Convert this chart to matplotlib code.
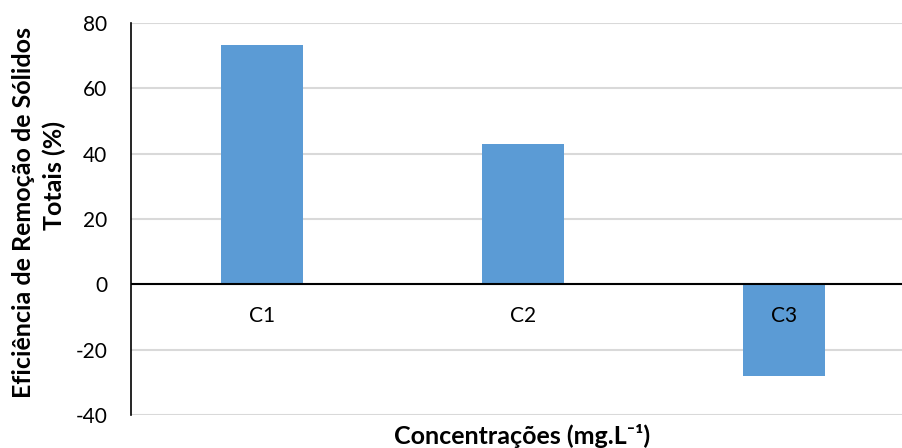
import matplotlib
matplotlib.use("Agg")
import matplotlib.pyplot as plt

categories = ["C1", "C2", "C3"]
values = [73.3, 42.9, -28.2]
yticks = [-40, -20, 0, 20, 40, 60, 80]

plt.rcParams['font.family'] = ['Lato', 'DejaVu Sans']

fig = plt.figure(figsize=(9.02, 4.48), dpi=100)
ax = fig.add_axes([131/902, 33/448, 784/902, 392/448])

x = list(range(len(categories)))
ax.bar(x, values, width=0.314, color="#5b9bd5", zorder=3)
ax.set_xlim(-0.5, 2.5)
ax.set_ylim(-40, 80)
ax.set_yticks(yticks)
ax.set_yticklabels([str(t) for t in yticks], fontsize=15)
ax.tick_params(axis='y', length=0, pad=17)
ax.set_xticks([])
ax.grid(axis='y', color="#d9d9d9", linewidth=1.5, zorder=0)
ax.axhline(0, color="black", linewidth=1.5, zorder=4)
for s in ["top", "right", "bottom"]:
    ax.spines[s].set_visible(False)
ax.spines["left"].set_color("black")
ax.spines["left"].set_linewidth(1.2)

for xi, c in zip(x, categories):
    ax.annotate(c, xy=(xi, 0), xytext=(0, -32), textcoords="offset pixels",
                ha="center", va="center", fontsize=15, zorder=5)

fig.text(522/902, 1 - 436/448, "Concentrações (mg.L⁻¹)", ha="center", va="center",
         fontsize=18, fontweight="bold")
fig.text(24/902, 1 - 212/448, "Eficiência de Remoção de Sólidos", rotation=90, ha="center", va="center",
         fontsize=18, fontweight="bold")
fig.text(54/902, 1 - 176/448, "Totais (%)", rotation=90, ha="center", va="center",
         fontsize=18, fontweight="bold")

fig.savefig("out.png", dpi=100)
